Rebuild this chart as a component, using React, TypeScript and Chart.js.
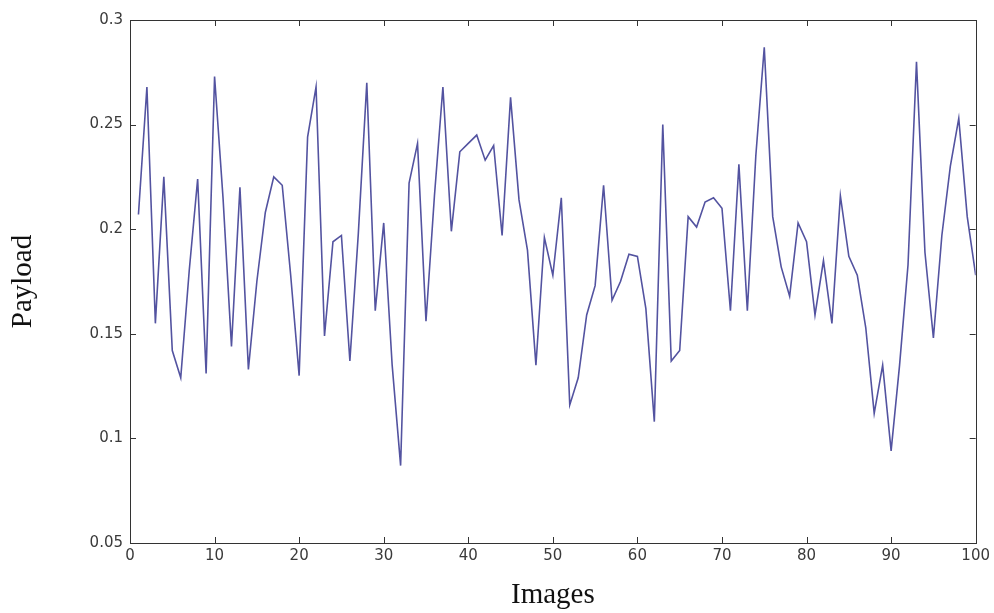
import React, { useEffect, useRef } from "react";
import { Chart, registerables } from "chart.js";

Chart.register(...registerables);

const images: number[] = Array.from({ length: 100 }, (_, i) => i + 1);
const payload: number[] = [
  0.207, 0.268, 0.155, 0.225, 0.142, 0.129, 0.18, 0.224, 0.131, 0.273,
  0.215, 0.144, 0.22, 0.133, 0.175, 0.208, 0.225, 0.221, 0.178, 0.13,
  0.244, 0.268, 0.149, 0.194, 0.197, 0.137, 0.198, 0.27, 0.161, 0.203,
  0.135, 0.087, 0.222, 0.241, 0.156, 0.216, 0.268, 0.199, 0.237, 0.241,
  0.245, 0.233, 0.24, 0.197, 0.263, 0.214, 0.19, 0.135, 0.196, 0.178,
  0.215, 0.116, 0.129, 0.159, 0.173, 0.221, 0.166, 0.175, 0.188, 0.187,
  0.162, 0.108, 0.25, 0.137, 0.142, 0.206, 0.201, 0.213, 0.215, 0.21,
  0.161, 0.231, 0.161, 0.235, 0.287, 0.206, 0.182, 0.168, 0.203, 0.194,
  0.159, 0.185, 0.155, 0.216, 0.187, 0.178, 0.153, 0.112, 0.135, 0.094,
  0.135, 0.183, 0.28, 0.189, 0.148, 0.197, 0.23, 0.253, 0.206, 0.178,
];
const xTicks: number[] = [0, 10, 20, 30, 40, 50, 60, 70, 80, 90, 100];
const yTicks: number[] = [0.05, 0.1, 0.15, 0.2, 0.25, 0.3];

const framePlugin = {
  id: "matlabFrame",
  afterDatasetsDraw(chart: any) {
    const { ctx, chartArea: a, scales } = chart;
    ctx.save();
    ctx.strokeStyle = "#333";
    ctx.lineWidth = 1;
    ctx.strokeRect(Math.round(a.left) + 0.5, Math.round(a.top) + 0.5, Math.round(a.right - a.left), Math.round(a.bottom - a.top));
    const len = 6;
    ctx.beginPath();
    for (const v of xTicks) {
      const px = Math.round(scales.x.getPixelForValue(v)) + 0.5;
      ctx.moveTo(px, a.bottom);
      ctx.lineTo(px, a.bottom - len);
      ctx.moveTo(px, a.top);
      ctx.lineTo(px, a.top + len);
    }
    for (const v of yTicks) {
      const py = Math.round(scales.y.getPixelForValue(v)) + 0.5;
      ctx.moveTo(a.left, py);
      ctx.lineTo(a.left + len, py);
      ctx.moveTo(a.right, py);
      ctx.lineTo(a.right - len, py);
    }
    ctx.stroke();
    ctx.restore();
  },
};

export default function App() {
  const ref = useRef<HTMLCanvasElement | null>(null);
  useEffect(() => {
    document.body.style.margin = "0";
    if (!ref.current) return;
    const chart = new Chart(ref.current, {
      type: "line",
      data: {
        datasets: [
          {
            data: images.map((x, i) => ({ x, y: payload[i] })),
            borderColor: "#5353a0",
            borderWidth: 1.6,
            pointRadius: 0,
            tension: 0,
            fill: false,
          },
        ],
      },
      options: {
        animation: false,
        responsive: false,
        maintainAspectRatio: false,
        layout: { padding: { left: 0, right: 17, top: 20, bottom: 0 } },
        plugins: { legend: { display: false }, tooltip: { enabled: false } },
        scales: {
          x: {
            type: "linear",
            min: 0,
            max: 100,
            afterFit: (s: any) => { s.height = 70; },
            afterBuildTicks: (s: any) => { s.ticks = xTicks.map((v) => ({ value: v })); },
            grid: { display: false, drawTicks: false },
            border: { display: false },
            ticks: {
              padding: 4,
              color: "#3a3a3a",
              font: { family: "DejaVu Sans", size: 15 },
              maxRotation: 0,
              callback: (v: any) => String(v),
            },
            title: {
              display: true,
              text: "Images",
              color: "#111",
              font: { family: "Liberation Serif", size: 29 },
              padding: { top: 0, bottom: 0 },
            },
          },
          y: {
            type: "linear",
            min: 0.05,
            max: 0.3,
            afterFit: (s: any) => { s.width = 130; },
            afterBuildTicks: (s: any) => { s.ticks = yTicks.map((v) => ({ value: v })); },
            grid: { display: false, drawTicks: false },
            border: { display: false },
            ticks: {
              padding: 7,
              color: "#3a3a3a",
              font: { family: "DejaVu Sans", size: 15 },
              callback: (v: any) => String(Number(Number(v).toFixed(2))),
            },
            title: {
              display: true,
              text: "Payload",
              color: "#111",
              font: { family: "Liberation Serif", size: 29 },
              padding: { top: 6, bottom: 0 },
            },
          },
        },
      },
      plugins: [framePlugin],
    });
    return () => chart.destroy();
  }, []);
  return (
    <div style={{ position: "absolute", left: 0, top: 0, width: 994, height: 613, background: "#fff" }}>
      <canvas ref={ref} width={994} height={613} style={{ width: 994, height: 613, display: "block" }} />
    </div>
  );
}
